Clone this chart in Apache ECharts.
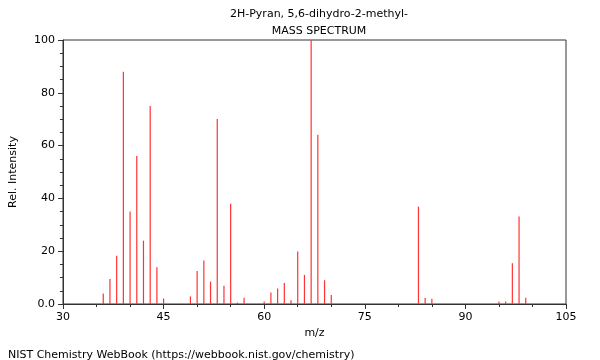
<!DOCTYPE html>
<html><head><meta charset="utf-8">
<script src="https://cdn.jsdelivr.net/npm/echarts@6/dist/echarts.min.js"></script>
<style>html,body{margin:0;padding:0;background:#fff}#c{width:600px;height:360px}</style>
</head><body><div id="c"></div>
<script>
const mz = [36,37,38,39,40,41,42,43,44,45,49,50,51,52,53,54,55,56,57,60,61,62,63,64,65,66,67,68,69,70,83,84,85,95,96,97,98,99];
const intensity = [4.0,9.5,18.3,88.0,35.0,56.1,24.0,75.0,13.9,2.1,2.9,12.5,16.5,8.5,70.1,6.9,38.0,0.6,2.4,0.9,4.4,5.9,8.0,1.4,19.9,11.0,100,64.1,9.0,3.4,36.9,2.3,2.0,0.9,0.9,15.4,33.1,2.4];
const titleLines = ['2H-Pyran, 5,6-dihydro-2-methyl-', 'MASS SPECTRUM'];
const xTitle = 'm/z';
const yTitle = 'Rel. Intensity';
const footer = 'NIST Chemistry WebBook (https://webbook.nist.gov/chemistry)';

const font = 'DejaVu Sans';
const chart = echarts.init(document.getElementById('c'), null, {renderer: 'canvas'});
chart.setOption({
  animation: false,
  textStyle: {fontFamily: font},
  title: [
    {text: titleLines[0], left: 314, top: 4, textAlign: 'center', textStyle: {fontFamily: font, fontSize: 11, fontWeight: 'normal', color: '#000'}},
    {text: titleLines[1], left: 314, top: 21, textAlign: 'center', textStyle: {fontFamily: font, fontSize: 11, fontWeight: 'normal', color: '#000'}},
    {text: footer, left: 3, top: 345, textStyle: {fontFamily: font, fontSize: 11, fontWeight: 'normal', color: '#000'}}
  ],
  grid: {left: 62, right: 34, top: 40, bottom: 56, show: true, borderColor: '#333', borderWidth: 1},
  xAxis: {
    type: 'value', min: 30, max: 105, interval: 15,
    name: xTitle, nameLocation: 'middle', nameGap: 23,
    nameTextStyle: {fontFamily: font, fontSize: 11, color: '#000'},
    axisLine: {lineStyle: {color: '#333'}},
    axisTick: {show: true, length: 5, lineStyle: {color: '#333'}},
    minorTick: {show: true, splitNumber: 3, length: 3, lineStyle: {color: '#333'}},
    axisLabel: {fontFamily: font, fontSize: 11, color: '#000', margin: 8},
    splitLine: {show: false}
  },
  yAxis: {
    type: 'value', min: 0, max: 100, interval: 20,
    name: yTitle, nameLocation: 'middle', nameGap: 44, nameRotate: 90,
    nameTextStyle: {fontFamily: font, fontSize: 11, color: '#000'},
    axisLine: {show: true, lineStyle: {color: '#333'}},
    axisTick: {show: true, length: 5, lineStyle: {color: '#333'}},
    minorTick: {show: true, splitNumber: 4, length: 3, lineStyle: {color: '#333'}},
    axisLabel: {fontFamily: font, fontSize: 11, color: '#000', margin: 8,
      formatter: v => v === 0 ? '0.0' : String(v)},
    splitLine: {show: false}
  },
  series: [{
    type: 'custom',
    silent: true,
    data: mz.map((m, i) => [m, intensity[i]]),
    encode: {x: 0, y: 1},
    renderItem: function (params, api) {
      const top = api.coord([api.value(0), api.value(1)]);
      const base = api.coord([api.value(0), 0]);
      return {
        type: 'line',
        shape: {x1: top[0], y1: base[1], x2: top[0], y2: top[1]},
        style: {stroke: '#ff3333', lineWidth: 1.2}
      };
    }
  }]
});
</script></body></html>
